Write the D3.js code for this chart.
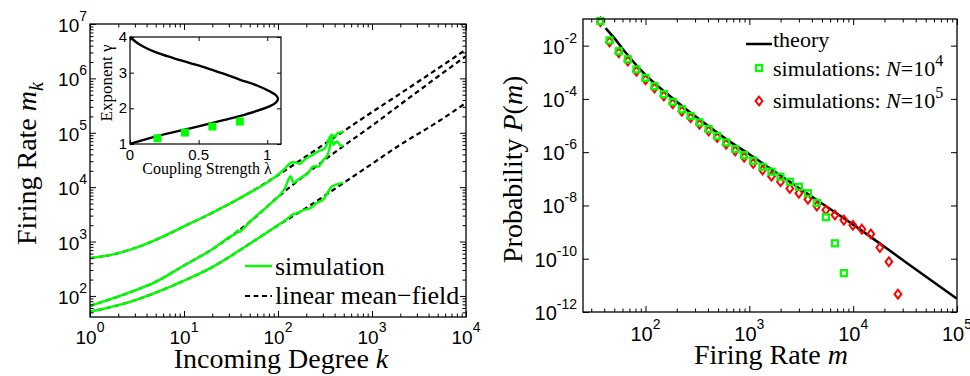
<!DOCTYPE html>
<html>
<head>
<meta charset="utf-8">
<script src="https://cdn.jsdelivr.net/npm/d3@7"></script>
<style>
  body { margin: 0; background: #fff; }
  text { font-family: "Liberation Sans", Arial, sans-serif; fill: #000; }
  text.serif { font-family: "Liberation Serif", "Times New Roman", "DejaVu Serif", serif; }
</style>
</head>
<body>
<svg id="fig" width="970" height="376"></svg>
<script>
// ---- left panel: firing rate vs incoming degree ----
var kMF = [1, 2, 3, 5, 10, 20, 50, 100, 200, 500, 1000, 2000, 5000, 10000];
var mfTop = [494, 611, 759, 1072, 1905, 3388, 7943, 16600, 37150, 107200, 239900, 524800, 1514000, 3388000];
var mfMid = [65.5, 97.7, 126, 182, 363, 724, 2291, 6607, 17380, 57540, 134900, 331100, 1072000, 2570000];
var mfBot = [51.3, 67.6, 83.2, 115, 191, 339, 912, 1995, 4169, 12020, 26920, 60260, 158500, 354800];

var simTopK = [1, 2, 3, 5, 10, 20, 50, 82, 105, 120, 134, 145, 152, 162, 171, 185, 202, 220, 238, 258, 280, 300, 316, 330, 343, 360, 372, 390, 404, 420, 439, 465, 495];
var simTopM = [494, 611, 759, 1072, 1905, 3388, 7943, 13180, 18200, 22390, 27540, 28800, 28510, 27600, 26920, 30200, 34280, 37500, 39810, 43700, 47320, 49000, 52480, 60000, 74130, 85000, 92260, 88000, 85110, 93000, 100000, 101000, 107200];
var simMidK = [1, 2, 3, 5, 10, 20, 31.6, 35.5, 37.2, 38.9, 41.7, 50, 82.2, 105, 120, 129, 136.5, 145.5, 164.4, 186, 209, 238, 269, 302, 331, 357, 372, 388, 421, 457, 495];
var simMidM = [65.5, 97.7, 126, 182, 363, 724, 1259, 1413, 1600, 1500, 1660, 2291, 4898, 7244, 10000, 13800, 15850, 12020, 13800, 15850, 18200, 23990, 23990, 31620, 36730, 56230, 85110, 60260, 69180, 60260, 56230];
var simBotK = [1, 2, 3, 5, 10, 20, 50, 100, 117.5, 134, 144.5, 158, 186, 219, 257, 302, 343, 372, 404, 439, 495];
var simBotM = [51.3, 67.6, 83.2, 115, 191, 339, 912, 1995, 2399, 2884, 3162, 3311, 3802, 4074, 5129, 5888, 8318, 10230, 10960, 11480, 12020];

// inset: exponent gamma vs coupling strength lambda
var lamCurve = [0, 0.073, 0.195, 0.316, 0.438, 0.56, 0.681, 0.803, 0.925, 1.02, 1.065, 1.078, 1.065, 1.02, 0.85, 0.681, 0.438, 0.195, 0];
var gamCurve = [4, 3.78, 3.56, 3.41, 3.27, 3.13, 2.97, 2.8, 2.64, 2.47, 2.36, 2.27, 2.17, 2.06, 1.84, 1.67, 1.44, 1.22, 1.0];
var lamSim = [0.2, 0.4, 0.6, 0.8];
var gamSim = [1.16, 1.32, 1.49, 1.63];

// ---- right panel: distribution of firing rates ----
var mTheory = [41.2, 50.1, 63.1, 79.4, 100, 158.5, 251.2, 398.1, 631, 1000, 1585, 2512, 3981, 6310, 10000, 31620, 100000];
var pTheory = [4.57e-2, 1.91e-2, 6.03e-3, 2.09e-3, 7.94e-4, 1.66e-4, 3.8e-5, 1.0e-5, 2.69e-6, 8.32e-7, 2.45e-7, 7.24e-8, 2.14e-8, 6.46e-9, 1.91e-9, 7.76e-11, 3.16e-12];

var mSim = [36.8, 45, 55.3, 67.6, 81.8, 100, 122, 150, 183, 224, 272, 331, 405, 490, 598, 731, 891, 1089, 1340, 1633, 1995, 2455, 3000, 3664, 4467, 5458, 6668, 8128, 9931, 12130, 14790, 18070, 22080, 26980];
var pN4 = [8.34e-2, 1.58e-2, 6.17e-3, 3.09e-3, 1.29e-3, 6.17e-4, 3.02e-4, 1.51e-4, 7.76e-5, 4.07e-5, 2.29e-5, 1.32e-5, 7.41e-6, 4.07e-6, 2.34e-6, 1.32e-6, 7.76e-7, 4.79e-7, 2.82e-7, 1.86e-7, 1.2e-7, 7.76e-8, 5.01e-8, 2.88e-8, 1.26e-8, 3.63e-9, 3.8e-10, 2.88e-11];
var pN5 = [7.94e-2, 1.38e-2, 5.37e-3, 2.63e-3, 1.1e-3, 5.25e-4, 2.57e-4, 1.29e-4, 6.61e-5, 3.47e-5, 1.95e-5, 1.12e-5, 6.31e-6, 3.55e-6, 2.0e-6, 1.12e-6, 6.46e-7, 3.8e-7, 2.14e-7, 1.26e-7, 7.76e-8, 4.37e-8, 2.88e-8, 1.7e-8, 9.55e-9, 6.76e-9, 4.37e-9, 2.82e-9, 1.82e-9, 1.29e-9, 8.51e-10, 2.63e-10, 7.76e-11, 4.68e-12];

var leftXMajor = [1, 10, 100, 1000, 10000];
var leftYMajor = [1e2, 1e3, 1e4, 1e5, 1e6, 1e7];
var rightXMajor = [1e2, 1e3, 1e4, 1e5];
var rightYMajor = [1e-12, 1e-10, 1e-8, 1e-6, 1e-4, 1e-2];

var green = "#00ff00", red = "#ff0000";
var svg = d3.select("#fig");

var xL = d3.scaleLog().domain([1, 1e4]).range([90, 466]);
var yL = d3.scaleLog().domain([41, 1e7]).range([317, 24]);
var xR = d3.scaleLog().domain([25, 1e5]).range([583, 957]);
var yR = d3.scaleLog().domain([1e-12, 1e-1]).range([312, 19]);
var xI = d3.scaleLinear().domain([0, 1.1]).range([130, 281]);
var yI = d3.scaleLinear().domain([1, 4]).range([144, 37]);

function minors(scale) {
  var d = scale.domain(), out = [];
  for (var e = Math.floor(Math.log10(d[0])); e <= Math.ceil(Math.log10(d[1])); e++) {
    for (var m = 2; m <= 9; m++) {
      var v = m * Math.pow(10, e);
      if (v >= d[0] && v <= d[1]) out.push(v);
    }
  }
  return out;
}

function strip(g) {
  g.select(".domain").remove();
  g.selectAll("line").attr("stroke", "#000").attr("stroke-width", 1);
}

// inward ticks on all four sides of a box
function boxTicks(x, y, xMaj, xMin, yMaj, yMin, big, small) {
  var xr = x.range(), yr = y.range();
  var g = svg.append("g");
  [[xMaj, big], [xMin, small]].forEach(function (s) {
    g.append("g").attr("transform", "translate(0," + yr[0] + ")")
      .call(d3.axisBottom(x).tickValues(s[0]).tickSize(-s[1]).tickFormat("")).call(strip);
    g.append("g").attr("transform", "translate(0," + yr[1] + ")")
      .call(d3.axisTop(x).tickValues(s[0]).tickSize(-s[1]).tickFormat("")).call(strip);
  });
  [[yMaj, big], [yMin, small]].forEach(function (s) {
    g.append("g").attr("transform", "translate(" + xr[0] + ",0)")
      .call(d3.axisLeft(y).tickValues(s[0]).tickSize(-s[1]).tickFormat("")).call(strip);
    g.append("g").attr("transform", "translate(" + xr[1] + ",0)")
      .call(d3.axisRight(y).tickValues(s[0]).tickSize(-s[1]).tickFormat("")).call(strip);
  });
  svg.append("rect").attr("x", xr[0]).attr("y", yr[1])
    .attr("width", xr[1] - xr[0]).attr("height", yr[0] - yr[1])
    .attr("fill", "none").attr("stroke", "#000").attr("stroke-width", 1.3);
}

function powLabel(x, y, exp, anchor, size, supDy) {
  var t = svg.append("text").attr("x", x).attr("y", y)
    .attr("text-anchor", anchor).style("font-size", size + "px");
  t.append("tspan").text("10");
  t.append("tspan").attr("dy", supDy).style("font-size", Math.round(size * 0.72) + "px").text(exp);
}

function clip(id, x, y) {
  svg.append("clipPath").attr("id", id).append("rect")
    .attr("x", x.range()[0]).attr("y", y.range()[1])
    .attr("width", x.range()[1] - x.range()[0]).attr("height", y.range()[0] - y.range()[1]);
}

// ================= left panel =================
clip("clipL", xL, yL);
var plotL = svg.append("g").attr("clip-path", "url(#clipL)");

var lineL = d3.line().x(function (d) { return xL(d[0]); }).y(function (d) { return yL(d[1]); })
  .curve(d3.curveMonotoneX);

[mfTop, mfMid, mfBot].forEach(function (mf) {
  plotL.append("path").datum(d3.zip(kMF, mf)).attr("d", lineL)
    .attr("fill", "none").attr("stroke", "#000").attr("stroke-width", 2.2)
    .attr("stroke-dasharray", "5,3.5");
});
[[simTopK, simTopM], [simMidK, simMidM], [simBotK, simBotM]].forEach(function (s) {
  plotL.append("path").datum(d3.zip(s[0], s[1])).attr("d", lineL)
    .attr("fill", "none").attr("stroke", green).attr("stroke-width", 2.4)
    .attr("stroke-linejoin", "round");
});

boxTicks(xL, yL, leftXMajor, minors(xL), leftYMajor, minors(yL), 6, 3.5);

leftXMajor.forEach(function (v) {
  powLabel(xL(v), 344, Math.round(Math.log10(v)), "middle", 19, -12);
});
leftYMajor.forEach(function (v) {
  powLabel(87, yL(v) + 8, Math.round(Math.log10(v)), "end", 19, -11);
});

var xlabL = svg.append("text").attr("class", "serif").attr("x", 281).attr("y", 368)
  .attr("text-anchor", "middle").style("font-size", "28px");
xlabL.append("tspan").text("Incoming Degree ");
xlabL.append("tspan").style("font-style", "italic").text("k");

var ylabL = svg.append("text").attr("class", "serif")
  .attr("transform", "translate(36,245) rotate(-90)").style("font-size", "28px");
ylabL.append("tspan").text("Firing Rate ");
ylabL.append("tspan").style("font-style", "italic").text("m");
ylabL.append("tspan").attr("dy", 7).style("font-style", "italic").style("font-size", "20px").text("k");

// legend (left)
svg.append("line").attr("x1", 245).attr("x2", 272).attr("y1", 266).attr("y2", 266)
  .attr("stroke", green).attr("stroke-width", 2.4);
svg.append("text").attr("class", "serif").attr("x", 275).attr("y", 275)
  .style("font-size", "26px").text("simulation");
svg.append("line").attr("x1", 245).attr("x2", 272).attr("y1", 296).attr("y2", 296)
  .attr("stroke", "#000").attr("stroke-width", 2.2).attr("stroke-dasharray", "5,3.5");
svg.append("text").attr("class", "serif").attr("x", 275).attr("y", 304)
  .style("font-size", "26px").text("linear mean\u2212field");

// ---- inset ----
svg.append("rect").attr("x", 130).attr("y", 37).attr("width", 151).attr("height", 107).attr("fill", "#fff");
var lineI = d3.line().x(function (d) { return xI(d[0]); }).y(function (d) { return yI(d[1]); })
  .curve(d3.curveCatmullRom);
svg.append("path").datum(d3.zip(lamCurve, gamCurve)).attr("d", lineI)
  .attr("fill", "none").attr("stroke", "#000").attr("stroke-width", 2.4);
svg.selectAll(".isq").data(d3.zip(lamSim, gamSim)).enter().append("rect")
  .attr("class", "isq")
  .attr("x", function (d) { return xI(d[0]) - 4; })
  .attr("y", function (d) { return yI(d[1]) - 4; })
  .attr("width", 8).attr("height", 8).attr("fill", green);

var ig = svg.append("g");
ig.append("g").attr("transform", "translate(0,144)")
  .call(d3.axisBottom(xI).tickValues([0, 0.5, 1]).tickSize(-4).tickFormat("")).call(strip);
ig.append("g").attr("transform", "translate(0,37)")
  .call(d3.axisTop(xI).tickValues([0, 0.5, 1]).tickSize(-4).tickFormat("")).call(strip);
ig.append("g").attr("transform", "translate(130,0)")
  .call(d3.axisLeft(yI).tickValues([1, 2, 3, 4]).tickSize(-4).tickFormat("")).call(strip);
ig.append("g").attr("transform", "translate(281,0)")
  .call(d3.axisRight(yI).tickValues([1, 2, 3, 4]).tickSize(-4).tickFormat("")).call(strip);
svg.append("rect").attr("x", 130).attr("y", 37).attr("width", 151).attr("height", 107)
  .attr("fill", "none").attr("stroke", "#000").attr("stroke-width", 1.2);

[0, 0.5, 1].forEach(function (v) {
  svg.append("text").attr("x", xI(v)).attr("y", 160).attr("text-anchor", "middle")
    .style("font-size", "15px").text(v === 0.5 ? "0.5" : v);
});
[1, 2, 3, 4].forEach(function (v) {
  svg.append("text").attr("x", 127).attr("y", yI(v) + 5).attr("text-anchor", "end")
    .style("font-size", "15px").text(v);
});
svg.append("text").attr("class", "serif").attr("x", 207).attr("y", 174)
  .attr("text-anchor", "middle").style("font-size", "16px").text("Coupling Strength \u03bb");
svg.append("text").attr("class", "serif").attr("transform", "translate(112,83) rotate(-90)")
  .attr("text-anchor", "middle").style("font-size", "17px").text("Exponent \u03b3");

// ================= right panel =================
clip("clipR", xR, yR);
var plotR = svg.append("g").attr("clip-path", "url(#clipR)");

plotR.append("path").datum(d3.zip(mTheory, pTheory))
  .attr("d", d3.line().x(function (d) { return xR(d[0]); }).y(function (d) { return yR(d[1]); })
    .curve(d3.curveMonotoneX))
  .attr("fill", "none").attr("stroke", "#000").attr("stroke-width", 2.5);

var diamond = "M0,-4.4L3.4,0L0,4.4L-3.4,0Z";
svg.selectAll(".dN5").data(d3.zip(mSim.slice(0, pN5.length), pN5)).enter().append("path")
  .attr("class", "dN5")
  .attr("transform", function (d) { return "translate(" + xR(d[0]) + "," + yR(d[1]) + ")"; })
  .attr("d", diamond).attr("fill", "none").attr("stroke", red).attr("stroke-width", 2);

svg.selectAll(".sN4").data(d3.zip(mSim.slice(0, pN4.length), pN4)).enter().append("rect")
  .attr("class", "sN4")
  .attr("x", function (d) { return xR(d[0]) - 3; })
  .attr("y", function (d) { return yR(d[1]) - 3; })
  .attr("width", 6).attr("height", 6)
  .attr("fill", "none").attr("stroke", green).attr("stroke-width", 2.2);

boxTicks(xR, yR, rightXMajor, minors(xR), rightYMajor, [], 6, 3.5);

rightXMajor.forEach(function (v) {
  powLabel(xR(v), 341, Math.round(Math.log10(v)), "middle", 20, -12);
});
rightYMajor.forEach(function (v) {
  powLabel(577, yR(v) + 8, Math.round(Math.log10(v)), "end", 20, -11);
});

var xlabR = svg.append("text").attr("class", "serif").attr("x", 771).attr("y", 364)
  .attr("text-anchor", "middle").style("font-size", "28px");
xlabR.append("tspan").text("Firing Rate ");
xlabR.append("tspan").style("font-style", "italic").text("m");

var ylabR = svg.append("text").attr("class", "serif")
  .attr("transform", "translate(522,263) rotate(-90)").style("font-size", "28px");
ylabR.append("tspan").text("Probability ");
ylabR.append("tspan").style("font-style", "italic").text("P");
ylabR.append("tspan").text("(");
ylabR.append("tspan").style("font-style", "italic").text("m");
ylabR.append("tspan").text(")");

// legend (right)
svg.append("line").attr("x1", 746).attr("x2", 772).attr("y1", 44).attr("y2", 44)
  .attr("stroke", "#000").attr("stroke-width", 2.5);
svg.append("text").attr("class", "serif").attr("x", 773).attr("y", 47)
  .style("font-size", "22px").text("theory");
svg.append("rect").attr("x", 756).attr("y", 65).attr("width", 6).attr("height", 6)
  .attr("fill", "none").attr("stroke", green).attr("stroke-width", 2.2);
svg.append("path").attr("transform", "translate(759,101)").attr("d", diamond)
  .attr("fill", "none").attr("stroke", red).attr("stroke-width", 2);

[[76, "4"], [108, "5"]].forEach(function (r) {
  var t = svg.append("text").attr("class", "serif").attr("x", 773).attr("y", r[0])
    .style("font-size", "22px");
  t.append("tspan").text("simulations: ");
  t.append("tspan").style("font-style", "italic").text("N");
  t.append("tspan").text("=10");
  t.append("tspan").attr("dy", -10).style("font-size", "16px").text(r[1]);
});
</script>
</body>
</html>
